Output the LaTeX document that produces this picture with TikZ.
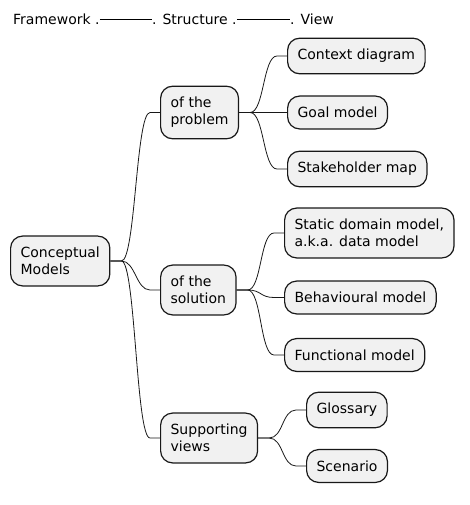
\documentclass[tikz,border=0pt]{standalone}
\usepackage{fontspec}
\setmainfont{DejaVu Sans}
\definecolor{nodefill}{HTML}{F1F1F1}
\definecolor{nodeline}{HTML}{181818}
\begin{document}
\begin{tikzpicture}[x=1pt,y=-1pt,
  box/.style={draw=nodeline,fill=nodefill,line width=1.2pt,rounded corners=12pt,
    align=left,inner xsep=10pt,inner ysep=11pt,anchor=west,
    font=\fontsize{14}{17}\selectfont},
  head/.style={inner sep=0pt,anchor=base west,font=\fontsize{14}{17}\selectfont},
  conn/.style={draw=nodeline,line width=0.8pt},
  hline/.style={draw=black,line width=0.8pt}]
\useasboundingbox (0,0) rectangle (469,505);
% header
\node[head] (fw) at (13,24.5) {Framework .};
\node[head] (st) at (152,24.5) {. Structure .};
\node[head] (vw) at (290,24.5) {. View};
\draw[hline] ([yshift=5pt]fw.base east) -- ([yshift=5pt]st.base west);
\draw[hline] ([yshift=5pt]st.base east) -- ([yshift=5pt]vw.base west);
% nodes
\node[box] (root) at (10,261) {Conceptual\\Models};
\node[box] (prob) at (160,112.5) {of the\\problem};
\node[box] (sol) at (160,290) {of the\\solution};
\node[box] (sup) at (160,438) {Supporting\\views};
\node[box] (ctx) at (287,56) {Context diagram};
\node[box] (goal) at (287,112.5) {Goal model};
\node[box] (stk) at (287,169) {Stakeholder map};
\node[box] (stat) at (284,233) {Static domain model,\\a.k.a. data model};
\node[box] (beh) at (284,297.5) {Behavioural model};
\node[box] (fun) at (284,355) {Functional model};
\node[box] (glo) at (306,410) {Glossary};
\node[box] (scn) at (306,466) {Scenario};
% connectors
\foreach \p/\c in {root/prob,root/sol,root/sup,prob/ctx,prob/goal,prob/stk,sol/stat,sol/beh,sol/fun,sup/glo,sup/scn}{
  \draw[conn] (\p.east) -- ++(11,0) .. controls +(14,0) and +(-14,0) .. ([xshift=-10pt]\c.west) -- (\c.west);
}
\end{tikzpicture}
\end{document}
